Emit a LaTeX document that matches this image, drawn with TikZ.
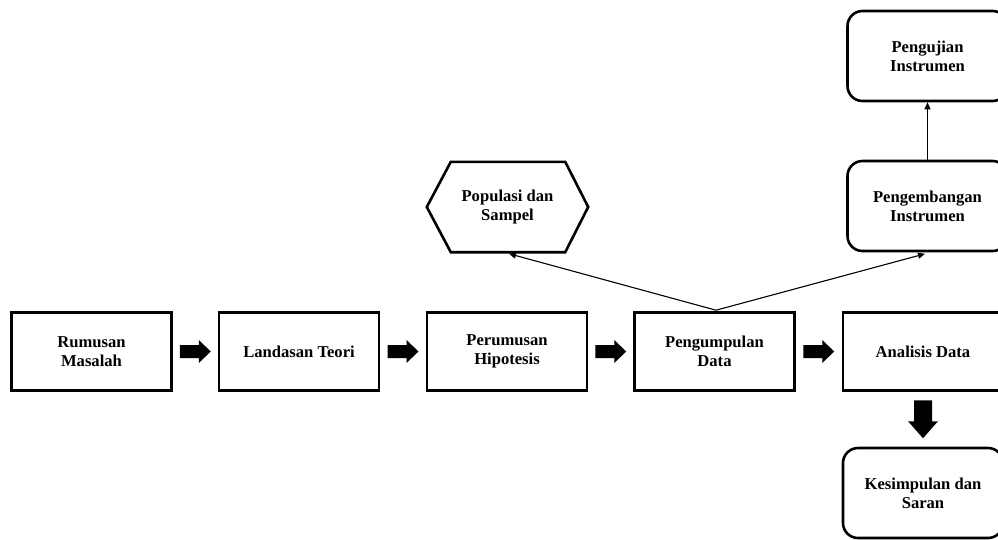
\documentclass[tikz,border=0pt]{standalone}
\usepackage{fontspec}
\setmainfont{Liberation Serif}
\usetikzlibrary{calc,arrows.meta}
\tikzset{
  txt/.style={font=\fontsize{16.6}{19}\selectfont\bfseries, align=center, inner sep=0pt},
  sqbox/.style={txt, draw, line width=2.6pt, minimum width=160pt, minimum height=78pt},
  rbox/.style={txt, draw, line width=2.6pt, rounded corners=15pt, minimum width=160pt, minimum height=90pt},
  hexnode/.style={txt, minimum width=161pt, minimum height=90pt},
  thin/.style={line width=1.1pt, -{Triangle[length=7pt,width=6pt]}},
}
\newcommand{\harrow}[2]{%
  \fill ($(#1.east)!0.5!(#2.west)$) ++(-15.5,-6.5) -- ++(19,0) -- ++(0,-5) -- ++(12,11.5) -- ++(-12,11.5) -- ++(0,-5) -- ++(-19,0) -- cycle;}
\newcommand{\varrow}[2]{%
  \fill ($(#1.south)!0.5!(#2.north)$) ++(-9,-19) -- ++(18,0) -- ++(0,21) -- ++(6,0) -- ++(-15,17) -- ++(-15,-17) -- ++(6,0) -- cycle;}
\begin{document}
\begin{tikzpicture}[x=1pt,y=-1pt]
\clip (0,0) rectangle (998,539);
\fill[white] (0,0) rectangle (998,539);
\node[sqbox] (rm) at (91.5,351.5) {Rumusan\\Masalah};
\node[sqbox] (lt) at (299,351.5) {Landasan Teori};
\node[sqbox] (ph) at (507,351.5) {Perumusan\\Hipotesis};
\node[sqbox] (pd) at (714.5,351.5) {Pengumpulan\\Data};
\node[sqbox] (ad) at (923,351.5) {Analisis Data};
\node[rbox] (ks) at (923,493) {Kesimpulan dan\\Saran};
\node[rbox] (pi) at (927.5,56) {Pengujian\\Instrumen};
\node[rbox] (pe) at (927.5,206) {Pengembangan\\Instrumen};
\node[hexnode] (ps) at (507.5,207) {Populasi dan\\Sampel};
\draw[line width=2.6pt, line join=miter]
  (ps.west) -- ([xshift=24pt]ps.north west) -- ([xshift=-23pt]ps.north east) -- (ps.east)
  -- ([xshift=-23pt]ps.south east) -- ([xshift=24pt]ps.south west) -- cycle;
\harrow{rm}{lt}
\harrow{lt}{ph}
\harrow{ph}{pd}
\harrow{pd}{ad}
\varrow{ad}{ks}
\coordinate (pdtop) at ([xshift=1.5pt,yshift=1pt]pd.north);
\draw[thin] (pdtop) -- ([xshift=1.5pt,yshift=-1.5pt]ps.south);
\draw[thin] (pdtop) -- ([xshift=-2.5pt,yshift=-1.5pt]pe.south);
\draw[thin] (pe.north) -- (pi.south);
\end{tikzpicture}
\end{document}
